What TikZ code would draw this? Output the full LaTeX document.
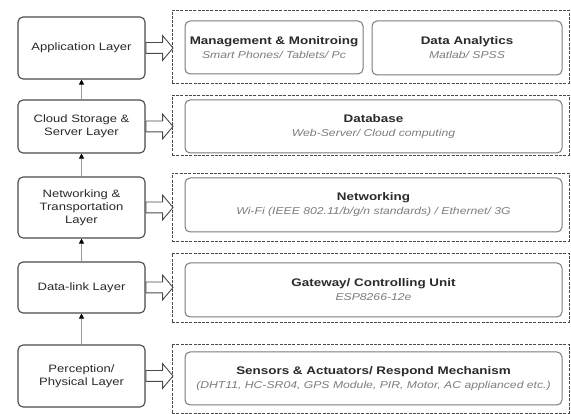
\documentclass[tikz,border=0pt]{standalone}
\usepackage{fontspec}
\setmainfont{Liberation Sans}[FakeStretch=1.22]
\usetikzlibrary{arrows.meta,shapes.arrows}

\definecolor{boxline}{HTML}{4A4A4A}
\definecolor{itemline}{HTML}{7A7A7A}
\definecolor{txtdark}{HTML}{2A2A2A}
\definecolor{txtsub}{HTML}{7C7C7C}

\tikzset{
  layer/.style={draw=boxline, line width=1.1pt, rounded corners=5pt, fill=white,
    minimum width=127pt, align=center, text=txtdark,
    font=\fontsize{10.7}{13}\selectfont},
  group/.style={draw=boxline, line width=0.7pt, dash pattern=on 3pt off 1.3pt,
    minimum width=397pt},
  item/.style={draw=itemline, line width=1pt, rounded corners=5pt, align=center,
    inner sep=0pt, text=txtdark, font=\fontsize{10}{14}\selectfont},
  upline/.style={draw=gray!80, line width=1pt,
    -{Triangle[length=5pt,width=5pt,color=black]}},
  hollow/.style={single arrow, draw=boxline, line width=0.9pt, fill=white,
    inner sep=5pt, minimum height=27pt, single arrow head extend=7pt,
    single arrow tip angle=100, anchor=west}
}
\newcommand{\ttl}[1]{{\fontsize{11}{14}\selectfont\bfseries #1}}
\newcommand{\sub}[1]{{\color{txtsub}\itshape #1}}

\begin{document}
\begin{tikzpicture}[x=1pt, y=1pt]
\useasboundingbox (0,0) rectangle (571,414);

% layers on the left
\node[layer, minimum height=62pt] (app) at (81.5,366) {Application Layer};
\node[layer, minimum height=53pt] (cloud) at (81.5,287.5) {Cloud Storage \&\\Server Layer};
\node[layer, minimum height=61pt] (net) at (81.5,206.5) {Networking \&\\Transportation\\Layer};
\node[layer, minimum height=51pt] (link) at (81.5,126.5) {Data-link Layer};
\node[layer, minimum height=62pt] (phys) at (81.5,38) {Perception/\\Physical Layer};

\draw[upline] (phys.north) -- (link.south);
\draw[upline] (link.north) -- (net.south);
\draw[upline] (net.north) -- (cloud.south);
\draw[upline] (cloud.north) -- (app.south);

% dashed groups
\node[group, minimum height=73pt] (appG) at (370.5,367.5) {};
\node[group, minimum height=60pt] (cloudG) at (370.5,289) {};
\node[group, minimum height=68pt] (netG) at (370.5,207) {};
\node[group, minimum height=69pt] (linkG) at (370.5,126.5) {};
\node[group, minimum height=69pt] (physG) at (370.5,35.5) {};

% hollow arrows
\node[hollow] (appA) at (app.east) {};
\node[hollow] (cloudA) at (cloud.east) {};
\node[hollow] (netA) at (net.east) {};
\node[hollow] (linkA) at (link.east) {};
\node[hollow] (physA) at (phys.east) {};

% items
\node[item, minimum width=178pt, minimum height=53pt] (mgmt) at (274,366.5)
  {\ttl{Management \& Monitroing}\\\sub{Smart Phones/ Tablets/ Pc}};
\node[item, minimum width=190pt, minimum height=54pt] (anly) at (467,366)
  {\ttl{Data Analytics}\\\sub{Matlab/ SPSS}};
\node[item, minimum width=377pt, minimum height=53pt] (db) at (373.5,287.5)
  {\ttl{Database}\\\sub{Web-Server/ Cloud computing}};
\node[item, minimum width=377pt, minimum height=54pt] (wifi) at (373.5,209)
  {\ttl{Networking}\\\sub{Wi-Fi (IEEE 802.11/b/g/n standards) / Ethernet/ 3G}};
\node[item, minimum width=377pt, minimum height=54pt] (gw) at (373.5,124)
  {\ttl{Gateway/ Controlling Unit}\\\sub{ESP8266-12e}};
\node[item, minimum width=377pt, minimum height=53pt] (sens) at (373.5,35.5)
  {\ttl{Sensors \& Actuators/ Respond Mechanism}\\\sub{(DHT11, HC-SR04, GPS Module, PIR, Motor, AC applianced etc.)}};

\end{tikzpicture}
\end{document}
